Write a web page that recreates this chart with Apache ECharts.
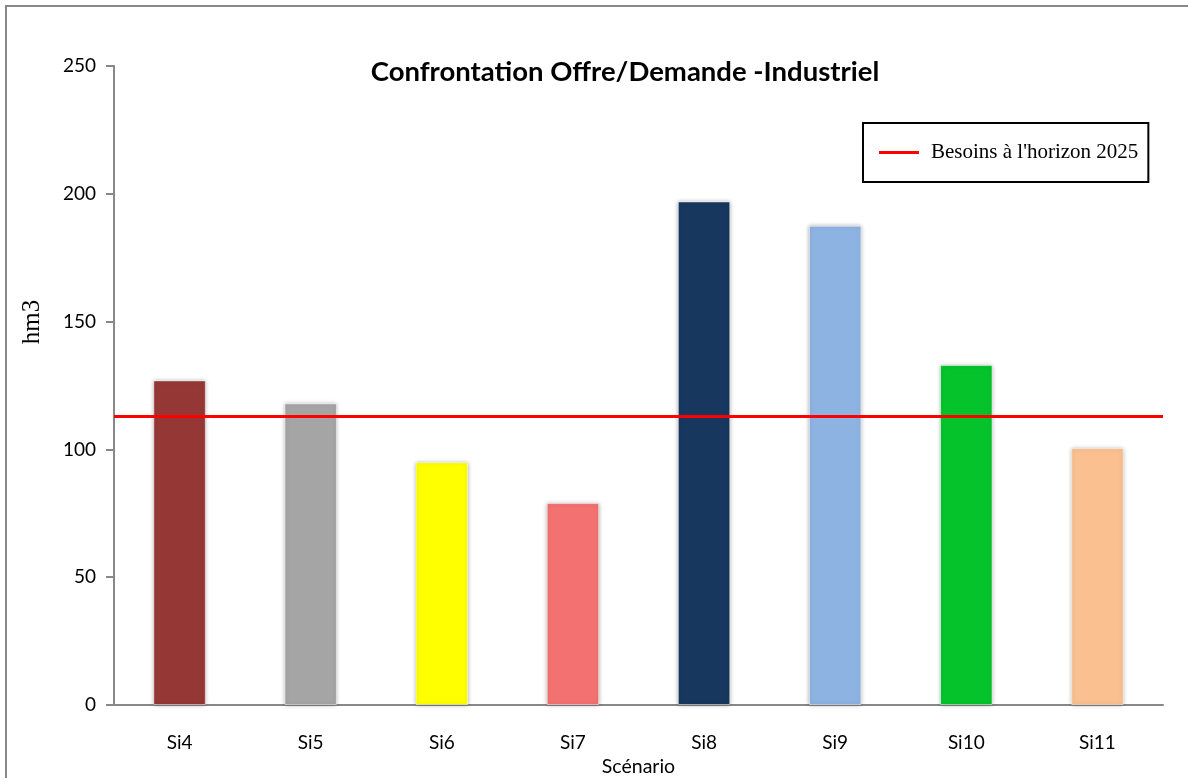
<!DOCTYPE html>
<html>
<head>
<meta charset="utf-8">
<script src="https://cdn.jsdelivr.net/npm/echarts@6/dist/echarts.min.js"></script>
<style>
  html, body { margin: 0; padding: 0; background: #fff; }
  #chart { width: 1188px; height: 778px; }
</style>
</head>
<body>
<div id="chart"></div>
<script>
// Scenarios and the supply volume (hm3) of each one
const scenarios = ['Si4', 'Si5', 'Si6', 'Si7', 'Si8', 'Si9', 'Si10', 'Si11'];
const supply = [127, 118, 95, 79, 197, 187.5, 133, 100.5];
const barColors = ['#953735', '#A5A5A5', '#FFFF00', '#F37171', '#17375E', '#8DB3E2', '#05C32B', '#FAC090'];
// Industrial demand at the 2025 horizon
const demandName = "Besoins à l'horizon 2025";
const demand2025 = 113;
const yTicks = { min: 0, max: 250, interval: 50 };

const chart = echarts.init(document.getElementById('chart'));

const sansFont = 'Lato, "Open Sans", sans-serif';
const serifFont = '"Liberation Serif", "DejaVu Serif", serif';

chart.setOption({
  animation: false,
  backgroundColor: '#fff',
  title: {
    text: 'Confrontation Offre/Demande -Industriel',
    left: 620,
    top: 53,
    textAlign: 'center',
    textStyle: { fontFamily: sansFont, fontWeight: 'bold', fontSize: 27.5, color: '#000' }
  },
  legend: {
    left: 863,
    top: 123,
    data: [demandName],
    icon: 'rect',
    itemWidth: 40,
    itemHeight: 3,
    itemGap: 10,
    padding: [19, 10, 19, 16],
    borderColor: '#000',
    borderWidth: 2,
    textStyle: { fontFamily: serifFont, fontSize: 21, color: '#000', padding: [0, 0, 0, 7] }
  },
  grid: { left: 114, right: 25, top: 66, bottom: 73, outerBoundsMode: 'none' },
  xAxis: {
    type: 'category',
    data: scenarios,
    name: 'Scénario',
    nameLocation: 'middle',
    nameGap: 50,
    nameTextStyle: { fontFamily: sansFont, fontSize: 19.5, color: '#000' },
    axisLine: { lineStyle: { color: '#888', width: 2 } },
    axisTick: { show: false },
    axisLabel: { fontFamily: sansFont, fontSize: 19, color: '#000', margin: 28 }
  },
  yAxis: {
    type: 'value',
    min: yTicks.min,
    max: yTicks.max,
    interval: yTicks.interval,
    axisLine: { show: true, lineStyle: { color: '#888', width: 2 } },
    axisTick: { show: true, length: 8, lineStyle: { color: '#888', width: 2 } },
    splitLine: { show: false },
    axisLabel: { fontFamily: sansFont, fontSize: 19, color: '#000', margin: 18 }
  },
  series: [
    {
      type: 'bar',
      barWidth: '40%',
      data: supply.map((v, i) => ({ value: v, itemStyle: { color: barColors[i] } })),
      itemStyle: {
        borderColor: 'rgba(255,255,255,0.5)',
        borderWidth: 1,
        shadowBlur: 4,
        shadowColor: 'rgba(0,0,0,0.3)'
      },
      z: 2
    },
    {
      type: 'line',
      name: demandName,
      data: [],
      color: '#FF0000',
      lineStyle: { color: '#FF0000', width: 3 },
      markLine: {
        silent: true,
        symbol: 'none',
        label: { show: false },
        lineStyle: { color: '#FF0000', width: 3, type: 'solid' },
        data: [{ yAxis: demand2025 }]
      },
      z: 3
    }
  ],
  graphic: [
    {
      type: 'rect',
      shape: { x: 6, y: 6, width: 1200, height: 800 },
      style: { fill: 'none', stroke: '#888', lineWidth: 2 },
      silent: true
    },
    {
      type: 'text',
      x: 32,
      y: 322,
      rotation: Math.PI / 2,
      style: {
        text: 'hm3',
        fontFamily: serifFont,
        fontSize: 25,
        fill: '#000',
        align: 'center',
        verticalAlign: 'middle'
      }
    }
  ]
});
</script>
</body>
</html>
